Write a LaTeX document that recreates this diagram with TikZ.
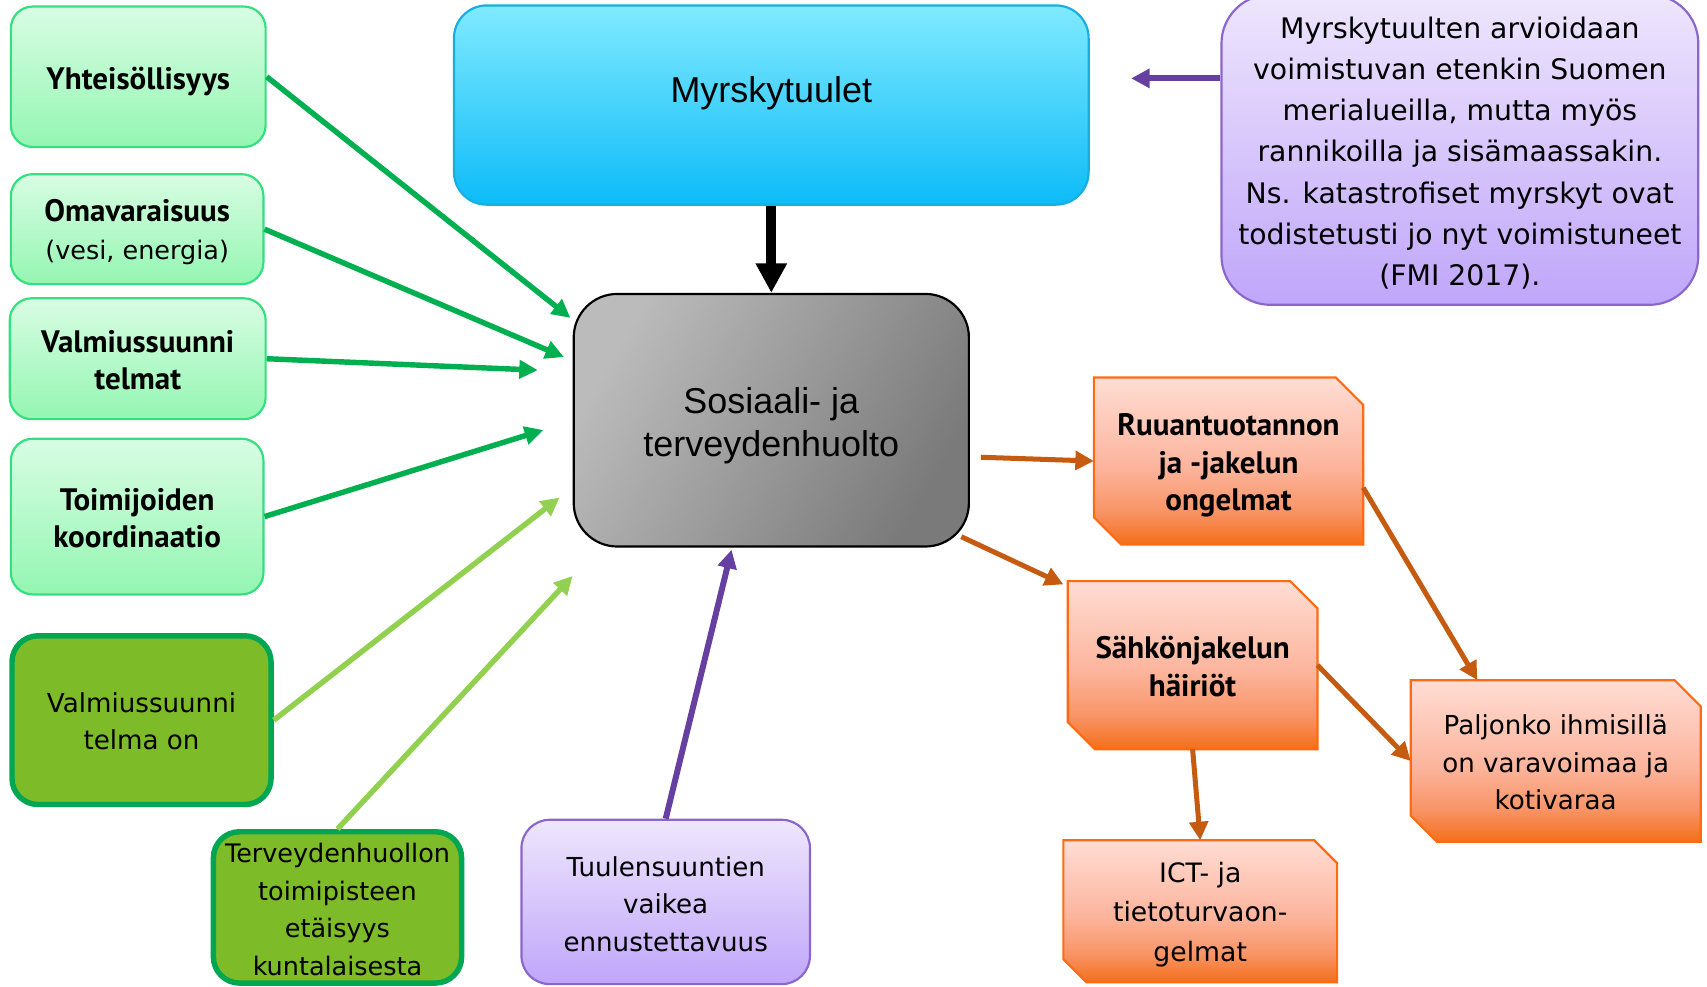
\documentclass[tikz,border=0pt]{standalone}
\usepackage{fontspec}
\setmainfont{DejaVu Sans}
\newfontfamily\ptsans{PT Sans}
\newfontfamily\arialf{Liberation Sans}
\usetikzlibrary{arrows.meta,calc}
\pgfdeclarelayer{background}
\pgfsetlayers{background,main}
\definecolor{lgtop}{HTML}{D8FDE3}
\definecolor{lgbot}{HTML}{94F6B2}
\definecolor{lgborder}{HTML}{33E07F}
\definecolor{ggreen}{HTML}{00B050}
\definecolor{lgreen}{HTML}{92D050}
\definecolor{dgfill}{HTML}{7DBB29}
\definecolor{dgborder}{HTML}{00A651}
\definecolor{bluetop}{HTML}{80EAFF}
\definecolor{bluebot}{HTML}{0DBBF8}
\definecolor{blueborder}{HTML}{19AEE0}
\definecolor{graylight}{HTML}{BBBBBB}
\definecolor{graydark}{HTML}{7A7A7A}
\definecolor{purtop}{HTML}{EEE6FD}
\definecolor{purbot}{HTML}{C0A6FA}
\definecolor{purborder}{HTML}{8B66CC}
\definecolor{purarrow}{HTML}{6640A0}
\definecolor{ortop}{HTML}{FFDDD4}
\definecolor{ormid}{HTML}{FCB49C}
\definecolor{ormidb}{HTML}{F89466}
\definecolor{orbot}{HTML}{F46F1A}
\definecolor{orborder}{HTML}{FF6A13}
\definecolor{orarrow}{HTML}{C55A11}
\pgfdeclareverticalshading{orsh}{100bp}{color(0bp)=(orbot); color(25bp)=(orbot); color(35bp)=(ormidb); color(48bp)=(ormid); color(75bp)=(ortop); color(100bp)=(ortop)}
\newcommand\snipbox[2]{%
  \begin{pgfonlayer}{background}
  \path[draw=orborder, line width=2pt, shading=orsh]
    (#1.north west) -- ([xshift=-#2pt]#1.north east) -- ([yshift=-#2pt]#1.north east)
    -- (#1.south east) -- ([xshift=#2pt]#1.south west) -- ([yshift=#2pt]#1.south west) -- cycle;
  \end{pgfonlayer}}
% text of a box: name, downward shift, font, text
\newcommand\boxtext[4]{\node[base, font=#3] (#1-t) at ([yshift=-#2pt]#1.center) {#4};}
\newcommand\bfl{\fontsize{28.5}{34.5}\selectfont\ptsans\bfseries}
\newcommand\rgl{\fontsize{24}{34.5}\selectfont}
\tikzset{
  base/.style={inner sep=0pt, align=center, text=black},
  lgbox/.style={base, rectangle, rounded corners=20pt, draw=lgborder, line width=2pt,
    top color=lgtop, bottom color=lgbot},
  dgbox/.style={base, rectangle, rounded corners=24pt, draw=dgborder, line width=5pt,
    fill=dgfill},
  purbox/.style={base, rectangle, rounded corners=26pt, draw=purborder, line width=2pt,
    top color=purtop, bottom color=purbot},
  orbase/.style={base, rectangle},
  garrow/.style={draw=ggreen, line width=5pt, -{Triangle[length=17pt,width=16.5pt]}},
  lgarrow/.style={draw=lgreen, line width=5pt, -{Triangle[length=17pt,width=16.5pt]}},
  parrow/.style={draw=purarrow, line width=5.5pt, -{Triangle[length=17pt,width=17pt]}},
  oarrow/.style={draw=orarrow, line width=4.6pt, -{Triangle[length=17pt,width=17pt]}},
  barrow/.style={draw=black, line width=9pt, -{Triangle[length=27pt,width=27pt]}}
}
\begin{document}
\begin{tikzpicture}[x=1pt,y=-1pt]
\useasboundingbox (0,0) rectangle (1568,906);
% left green boxes
\node[lgbox, minimum width=234pt, minimum height=129pt] (yht) at (127,70.5) {};
\boxtext{yht}{4}{\bfl}{Yhteisöllisyys}
\node[lgbox, minimum width=232pt, minimum height=101pt] (oma) at (126,210.5) {};
\boxtext{oma}{2.5}{\bfl}{Omavaraisuus\\{\rmfamily\mdseries\fontsize{23.4}{34.5}\selectfont (vesi, energia)}}
\node[lgbox, minimum width=235pt, minimum height=111pt] (valm) at (126.5,329.5) {};
\boxtext{valm}{1.5}{\bfl}{Valmiussuunni\\telmat}
\node[lgbox, minimum width=232pt, minimum height=143pt] (toim) at (126,474.5) {};
\boxtext{toim}{1.5}{\bfl}{Toimijoiden\\koordinaatio}
% dark green boxes
\node[dgbox, minimum width=238pt, minimum height=155pt] (valmon) at (130,661.5) {};
\boxtext{valmon}{1}{\rgl}{Valmiussuunni\\telma on}
\node[dgbox, minimum width=228pt, minimum height=139pt] (terv) at (310,833.5) {};
\boxtext{terv}{2}{\fontsize{23.4}{34.5}\selectfont}{Terveydenhuollon\\toimipisteen\\etäisyys\\kuntalaisesta}
% purple bottom
\node[purbox, minimum width=265pt, minimum height=151pt] (tuul) at (611.5,828.5) {};
\boxtext{tuul}{2}{\rgl}{Tuulensuuntien\\vaikea\\ennustettavuus}
% top blue
\node[base, rectangle, rounded corners=30pt, draw=blueborder, line width=2pt,
  top color=bluetop, bottom color=bluebot, minimum width=583pt, minimum height=183pt] (myrsky) at (708.5,96.5) {};
\boxtext{myrsky}{-10.5}{\fontsize{33}{40}\selectfont\arialf}{Myrskytuulet}
% centre
\node[base, rectangle, rounded corners=40pt, draw=black, line width=2pt,
  top color=graylight, bottom color=graydark, shading angle=60,
  minimum width=363pt, minimum height=232pt] (sos) at (708.5,386) {};
\boxtext{sos}{5}{\fontsize{33}{40}\selectfont\arialf}{Sosiaali- ja\\terveydenhuolto}
% note
\node[base, rectangle, rounded corners=45pt, draw=purborder, line width=2pt,
  top color=purtop, bottom color=purbot, minimum width=438pt, minimum height=285pt] (note) at (1341,137.5) {};
\boxtext{note}{3}{\fontsize{26}{37.8}\selectfont}{Myrskytuulten arvioidaan\\voimistuvan etenkin Suomen\\merialueilla, mutta myös\\rannikoilla ja sisämaassakin.\\Ns. katastrofiset myrskyt ovat\\todistetusti jo nyt voimistuneet\\(FMI 2017).}
% orange boxes
\node[orbase, minimum width=247pt, minimum height=153pt] (ruu) at (1128.5,423.5) {};
\snipbox{ruu}{25}
\boxtext{ruu}{4}{\bfl}{Ruuantuotannon\\ja -jakelun\\ongelmat}
\node[orbase, minimum width=229pt, minimum height=154pt] (sah) at (1095.5,611) {};
\snipbox{sah}{25}
\boxtext{sah}{1}{\bfl}{Sähkönjakelun\\häiriöt}
\node[orbase, minimum width=266pt, minimum height=148pt] (pal) at (1429,699) {};
\snipbox{pal}{24}
\boxtext{pal}{1.5}{\rgl}{Paljonko ihmisillä\\on varavoimaa ja\\kotivaraa}
\node[orbase, minimum width=251pt, minimum height=130pt] (ict) at (1102.5,837) {};
\snipbox{ict}{21}
\boxtext{ict}{3}{\fontsize{24.5}{36}\selectfont}{ICT- ja\\tietoturvaon-\\gelmat}
% arrows
\draw[garrow] (yht.east) -- ([shift={(-2pt,94pt)}]sos.west);
\draw[garrow] (oma.east) -- ([shift={(-8pt,58pt)}]sos.west);
\draw[garrow] (valm.east) -- ([shift={(-32pt,46pt)}]sos.west);
\draw[garrow] (toim.east) -- ([shift={(-27pt,-9pt)}]sos.west);
\draw[lgarrow] (valmon.east) -- ([shift={(-12pt,-71pt)}]sos.west);
\draw[lgarrow] (terv.north) -- ([shift={(0pt,-26pt)}]sos.south west);
\draw[parrow] (tuul.north) -- ([shift={(-36.5pt,-2pt)}]sos.south);
\draw[barrow] (myrsky.south) -- (sos.north);
\draw[parrow] ([yshift=65.5pt]note.west) -- ([shift={(38pt,24.5pt)}]myrsky.east);
\draw[oarrow] ([shift={(10pt,-34pt)}]sos.east) -- (ruu.west);
\draw[oarrow] ([shift={(-8pt,10pt)}]sos.south east) -- ([shift={(-4pt,-3pt)}]sah.north west);
\draw[oarrow] ([yshift=-24.5pt]ruu.east) -- ([xshift=-72pt]pal.north);
\draw[oarrow] (sah.east) -- (pal.west);
\draw[oarrow] (sah.south) -- (ict.north);
\end{tikzpicture}
\end{document}
